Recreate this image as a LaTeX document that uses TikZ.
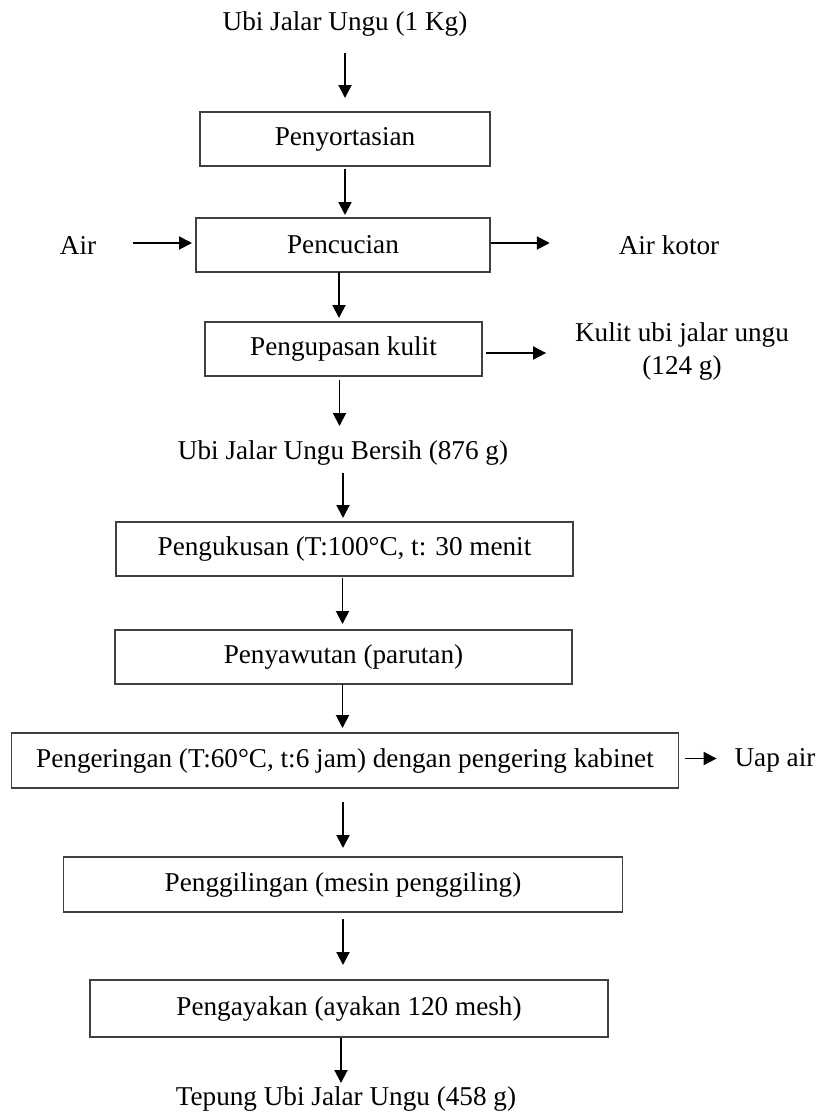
\documentclass[tikz,border=0pt]{standalone}
\usepackage{fontspec}
\setmainfont{Liberation Serif}
\usetikzlibrary{arrows.meta}
\begin{document}
\begin{tikzpicture}[
  x=0.5pt, y=-0.5pt,
  every node/.style={font=\fontsize{13.6pt}{16.5pt}\selectfont, inner sep=0pt, outer sep=0pt},
  procbox/.style={draw=black!75, line width=0.65pt, rectangle, minimum height=27pt},
  label/.style={},
  arr/.style={-{Triangle[length=6.5pt,width=6.5pt]}, line width=0.95pt}
]
\useasboundingbox (0,0) rectangle (819,1115);

% main line of process steps
\node[label] (t0) at (345,24) {Ubi Jalar Ungu (1 Kg)};
\node[procbox, minimum width=145pt] (b1) at (345,139) {Penyortasian};
\node[procbox, minimum width=147pt] (b2) at (343,245) {Pencucian};
\node[procbox, minimum width=138.5pt] (b3) at (343.5,349) {Pengupasan kulit};
\node[label] (t1) at (343,453) {Ubi Jalar Ungu Bersih (876 g)};
\node[procbox, minimum width=228.5pt] (b4) at (344.5,549) {Pengukusan (T:100°C, t: 30 menit};
\node[procbox, minimum width=228.5pt] (b5) at (343.5,657) {Penyawutan (parutan)};
\node[procbox, minimum width=333.5pt, minimum height=27.5pt] (b6) at (345,760.5) {Pengeringan (T:60°C, t:6 jam) dengan pengering kabinet};
\node[procbox, minimum width=279.5pt, minimum height=27.5pt] (b7) at (343,884.5) {Penggilingan (mesin penggiling)};
\node[procbox, minimum width=259pt, minimum height=28.5pt] (b8) at (349,1008.5) {Pengayakan (ayakan 120 mesh)};
\node[label] (t2) at (346,1099) {Tepung Ubi Jalar Ungu (458 g)};

% inputs and outputs at the side
\node[label] (air) at (78,245) {Air};
\node[label] (kotor) at (669,245) {Air kotor};
\node[label, align=center] (kulit) at (682,351.5) {Kulit ubi jalar ungu\\(124 g)};
\node[label] (uap) at (775,760) {Uap air};

% vertical flow arrows
\draw[arr] ([yshift=-14.5pt]t0.center) -- ([yshift=7pt]t0.center |- b1.north);
\draw[arr, shorten <=1.5pt, shorten >=1.5pt] (b1.south) -- (b1.south |- b2.north);
\draw[arr, shorten >=2pt] ([xshift=-2pt]b2.south) -- ([xshift=-2pt]b2.south |- b3.north);
\draw[arr, shorten <=2pt] ([xshift=-2pt]b3.south) -- ([xshift=-2pt,yshift=13.5pt]b3.south |- t1.center);
\draw[arr, shorten >=2pt] ([yshift=-10pt]t1.center) -- (t1.center |- b4.north);
\draw[arr, shorten <=1pt, shorten >=3pt] ([xshift=-1pt]b4.south) -- ([xshift=-1pt]b4.south |- b5.north);
\draw[arr, shorten >=2.5pt] ([xshift=-0.5pt]b5.south) -- ([xshift=-0.5pt]b5.south |- b6.north);
\draw[arr, shorten <=7pt, shorten >=4.5pt] ([xshift=-1pt]b6.south) -- ([xshift=-1pt]b6.south |- b7.north);
\draw[arr, shorten <=3.5pt, shorten >=7.5pt] (b7.south) -- (b7.south |- b8.north);
\draw[arr, shorten <=0.5pt] ([xshift=-4pt]b8.south) -- ([xshift=-4pt,yshift=8pt]b8.south |- t2.center);

% side arrows
\draw[arr, shorten >=2pt] ([xshift=18.5pt,yshift=1pt]air.east) -- ([yshift=1pt]b2.west);
\draw[arr, shorten <=0.5pt] ([yshift=1pt]b2.east) -- ([xshift=-34.5pt,yshift=1pt]b2.east -| kotor.west);
\draw[arr, shorten <=2pt] ([yshift=-2pt]b3.east) -- ([xshift=-14.5pt,yshift=-2pt]b3.east -| kulit.west);
\draw[arr, shorten <=3pt] ([yshift=1pt]b6.east) -- ([xshift=-9pt,yshift=1pt]b6.east -| uap.west);
\end{tikzpicture}
\end{document}
